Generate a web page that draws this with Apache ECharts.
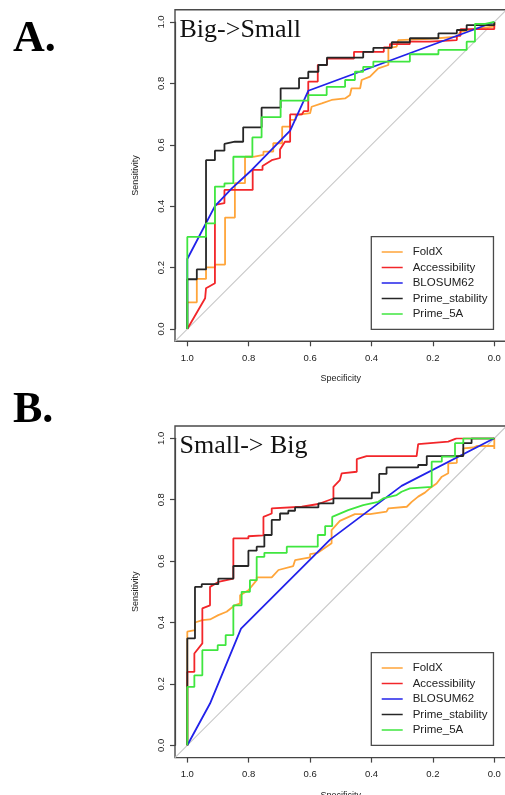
<!DOCTYPE html>
<html>
<head>
<meta charset="utf-8">
<script src="https://cdn.jsdelivr.net/npm/echarts@6/dist/echarts.min.js"></script>
<style>
html,body{margin:0;padding:0;background:#fff;}
#chart{width:505px;height:795px;}
</style>
</head>
<body>
<div id="chart"></div>
<script>
// ---------- DATA ----------
const seriesNames = ['FoldX', 'Accessibility', 'BLOSUM62', 'Prime_stability', 'Prime_5A'];
const panelTitles = ['Big->Small', 'Small-> Big'];
const panelLabels = ['A.', 'B.'];
const tickValues = [0, 0.2, 0.4, 0.6, 0.8, 1.0];
const axisNames = ['Specificity', 'Sensitivity'];

// Panel A (Big->Small): points are [specificity, sensitivity]
const A_FoldX = [[1,0],[1,0.087],[0.969,0.087],[0.969,0.163],[0.939,0.163],[0.939,0.201],[0.91,0.201],[0.91,0.21],[0.877,0.21],[0.877,0.363],[0.845,0.363],[0.845,0.475],[0.812,0.475],[0.812,0.561],[0.785,0.561],[0.785,0.567],[0.752,0.567],[0.752,0.578],[0.72,0.578],[0.72,0.605],[0.691,0.605],[0.691,0.659],[0.665,0.659],[0.665,0.681],[0.647,0.681],[0.647,0.697],[0.6,0.703],[0.595,0.724],[0.562,0.735],[0.53,0.746],[0.486,0.751],[0.47,0.762],[0.465,0.784],[0.437,0.784],[0.432,0.811],[0.405,0.822],[0.378,0.849],[0.345,0.86],[0.345,0.914],[0.318,0.92],[0.313,0.941],[0.211,0.945],[0.122,0.952],[0.11,0.968],[0.057,0.979],[0,0.985],[0,1]];
const A_Accessibility = [[1,0],[0.942,0.10],[0.939,0.133],[0.91,0.149],[0.91,0.404],[0.879,0.41],[0.879,0.453],[0.787,0.453],[0.787,0.518],[0.755,0.518],[0.755,0.531],[0.725,0.55],[0.698,0.557],[0.698,0.585],[0.682,0.61],[0.665,0.61],[0.665,0.699],[0.627,0.699],[0.62,0.71],[0.606,0.71],[0.606,0.806],[0.575,0.806],[0.575,0.86],[0.545,0.86],[0.545,0.881],[0.457,0.881],[0.457,0.903],[0.36,0.903],[0.36,0.917],[0.34,0.917],[0.34,0.928],[0.275,0.928],[0.275,0.936],[0.21,0.936],[0.21,0.941],[0.122,0.941],[0.122,0.955],[0.11,0.955],[0.11,0.977],[0,0.977],[0,1]];
const A_BLOSUM62 = [[1,0],[1,0.228],[0.91,0.40],[0.855,0.458],[0.79,0.518],[0.665,0.646],[0.606,0.776],[0,1]];
const A_PrimeStability = [[1,0],[1,0.162],[0.969,0.162],[0.969,0.194],[0.939,0.194],[0.939,0.55],[0.91,0.55],[0.91,0.581],[0.879,0.581],[0.879,0.603],[0.845,0.61],[0.818,0.61],[0.818,0.657],[0.758,0.657],[0.758,0.721],[0.696,0.721],[0.696,0.784],[0.636,0.784],[0.636,0.817],[0.606,0.817],[0.606,0.838],[0.573,0.838],[0.573,0.86],[0.545,0.86],[0.545,0.884],[0.427,0.884],[0.427,0.903],[0.394,0.903],[0.394,0.916],[0.334,0.916],[0.334,0.934],[0.275,0.934],[0.275,0.947],[0.182,0.947],[0.182,0.963],[0.122,0.963],[0.122,0.974],[0.09,0.974],[0.09,0.99],[0,0.99],[0,1]];
const A_Prime5A = [[1,0],[1,0.30],[0.939,0.30],[0.939,0.344],[0.91,0.344],[0.91,0.464],[0.879,0.464],[0.879,0.474],[0.85,0.475],[0.85,0.561],[0.788,0.561],[0.788,0.624],[0.758,0.624],[0.758,0.69],[0.696,0.69],[0.696,0.744],[0.606,0.744],[0.606,0.762],[0.546,0.762],[0.546,0.789],[0.486,0.789],[0.486,0.811],[0.454,0.811],[0.454,0.838],[0.427,0.838],[0.427,0.854],[0.394,0.854],[0.394,0.871],[0.275,0.871],[0.275,0.895],[0.182,0.895],[0.182,0.909],[0.09,0.909],[0.09,0.936],[0.063,0.936],[0.063,0.994],[0.03,0.994],[0.03,1],[0,1]];

// Panel B (Small-> Big)
const B_FoldX = [[1,0],[1,0.37],[0.975,0.375],[0.975,0.40],[0.951,0.408],[0.926,0.41],[0.899,0.424],[0.872,0.435],[0.845,0.456],[0.828,0.462],[0.828,0.489],[0.801,0.505],[0.774,0.538],[0.774,0.547],[0.725,0.547],[0.703,0.571],[0.655,0.584],[0.649,0.603],[0.6,0.612],[0.6,0.623],[0.575,0.627],[0.53,0.658],[0.53,0.701],[0.503,0.731],[0.454,0.753],[0.405,0.753],[0.351,0.761],[0.345,0.772],[0.285,0.777],[0.269,0.793],[0.248,0.81],[0.226,0.823],[0.21,0.837],[0.188,0.853],[0.171,0.875],[0.15,0.886],[0.15,0.918],[0.122,0.92],[0.122,0.94],[0.101,0.945],[0.101,0.967],[0.068,0.97],[0.057,0.975],[0,0.975],[0,0.965],[0,1]];
const B_Accessibility = [[1,0],[1,0.239],[0.977,0.239],[0.977,0.299],[0.975,0.304],[0.951,0.332],[0.951,0.446],[0.926,0.456],[0.926,0.516],[0.899,0.532],[0.85,0.543],[0.85,0.674],[0.801,0.674],[0.801,0.681],[0.752,0.684],[0.752,0.744],[0.725,0.755],[0.725,0.772],[0.627,0.777],[0.573,0.786],[0.524,0.804],[0.524,0.842],[0.503,0.864],[0.497,0.886],[0.448,0.891],[0.448,0.932],[0.416,0.942],[0.253,0.942],[0.248,0.981],[0.15,0.989],[0.123,1],[0,1]];
const B_BLOSUM62 = [[1,0],[0.926,0.136],[0.825,0.38],[0.6,0.605],[0.535,0.67],[0.302,0.845],[0,1]];
const B_PrimeStability = [[1,0],[1,0.348],[0.975,0.348],[0.975,0.516],[0.953,0.516],[0.953,0.525],[0.899,0.525],[0.899,0.543],[0.85,0.543],[0.85,0.584],[0.801,0.584],[0.801,0.634],[0.774,0.634],[0.774,0.647],[0.749,0.647],[0.749,0.685],[0.725,0.685],[0.725,0.734],[0.698,0.734],[0.698,0.755],[0.671,0.755],[0.671,0.764],[0.649,0.764],[0.649,0.775],[0.573,0.775],[0.573,0.788],[0.524,0.788],[0.524,0.804],[0.399,0.804],[0.399,0.823],[0.375,0.823],[0.375,0.884],[0.351,0.884],[0.351,0.905],[0.248,0.905],[0.248,0.913],[0.22,0.913],[0.22,0.942],[0.101,0.942],[0.101,0.984],[0.074,0.984],[0.074,1],[0,1]];
const B_Prime5A = [[1,0],[1,0.19],[0.977,0.19],[0.977,0.228],[0.951,0.228],[0.951,0.31],[0.901,0.31],[0.901,0.326],[0.875,0.326],[0.875,0.359],[0.85,0.359],[0.85,0.456],[0.823,0.456],[0.823,0.5],[0.796,0.5],[0.796,0.538],[0.774,0.538],[0.774,0.614],[0.749,0.614],[0.749,0.627],[0.676,0.627],[0.676,0.647],[0.575,0.647],[0.575,0.685],[0.551,0.685],[0.551,0.714],[0.528,0.714],[0.528,0.744],[0.524,0.748],[0.476,0.766],[0.427,0.782],[0.378,0.793],[0.362,0.804],[0.318,0.815],[0.302,0.826],[0.275,0.837],[0.204,0.842],[0.204,0.924],[0.171,0.924],[0.171,0.94],[0.128,0.94],[0.128,0.984],[0.101,0.984],[0.101,1],[0,1]];

const panelData = [
  [A_FoldX, A_Accessibility, A_BLOSUM62, A_PrimeStability, A_Prime5A],
  [B_FoldX, B_Accessibility, B_BLOSUM62, B_PrimeStability, B_Prime5A]
];
const axisPad = 0.04; // R's default 4% axis extension

// ---------- STYLE / LAYOUT ----------
const colors = ['#FFA53A', '#F2262A', '#2222EA', '#262626', '#3FE63F'];
const layout = [
  { innerTop: 22, outerTop: 9.7, legendTop: 236.7, titleY: 32, labelY: 44 },
  { innerTop: 438.3, outerTop: 426, legendTop: 652.7, titleY: 448, labelY: 415 }
];
const innerLeft = 187.3, innerSize = 307, outerLeft = 175, outerSize = 331.6;
const sansFont = 'Liberation Sans, Arial, sans-serif';
const serifFont = 'Liberation Serif, Times New Roman, serif';
const axisColor = '#444';

const grids = [], xAxes = [], yAxes = [], series = [], legends = [], graphics = [];
const hiddenAxis = (g, extra) => Object.assign({ gridIndex: g, type: 'value', show: false, min: 0, max: 1 }, extra || {});
const mkGrid = (o) => Object.assign({ show: false, containLabel: false, outerBoundsMode: 'none' }, o);

layout.forEach((L, p) => {
  const gOuter = p * 4, gInner = p * 4 + 1, gX = p * 4 + 2, gY = p * 4 + 3;
  grids.push(mkGrid({ left: outerLeft, top: L.outerTop, width: outerSize, height: outerSize,
    show: true, borderColor: '#4a4a4a', borderWidth: 1.4, backgroundColor: 'transparent' }));
  grids.push(mkGrid({ left: innerLeft, top: L.innerTop, width: innerSize, height: innerSize }));
  grids.push(mkGrid({ left: innerLeft, top: L.outerTop, width: innerSize, height: outerSize }));
  grids.push(mkGrid({ left: outerLeft, top: L.innerTop, width: outerSize, height: innerSize }));

  xAxes.push(hiddenAxis(gOuter, { min: -axisPad, max: 1 + axisPad, inverse: true }));
  yAxes.push(hiddenAxis(gOuter, { min: -axisPad, max: 1 + axisPad }));

  xAxes.push(hiddenAxis(gInner, { inverse: true }));
  yAxes.push(hiddenAxis(gInner));

  xAxes.push({
    gridIndex: gX, type: 'value', min: tickValues[0], max: tickValues[tickValues.length - 1],
    interval: 0.2, inverse: true, position: 'bottom',
    name: axisNames[0], nameLocation: 'middle', nameGap: 33,
    nameTextStyle: { fontFamily: sansFont, fontSize: 9, color: '#222' },
    axisLine: { show: true, onZero: false, lineStyle: { color: axisColor, width: 1.2 } },
    axisTick: { show: true, inside: false, length: 5, lineStyle: { color: axisColor, width: 1.2 } },
    axisLabel: { fontFamily: sansFont, fontSize: 9.5, color: '#222', margin: 12,
      formatter: v => v.toFixed(1) },
    splitLine: { show: false }
  });
  yAxes.push(hiddenAxis(gX));

  xAxes.push(hiddenAxis(gY, { inverse: true }));
  yAxes.push({
    gridIndex: gY, type: 'value', min: tickValues[0], max: tickValues[tickValues.length - 1],
    interval: 0.2, position: 'left',
    name: axisNames[1], nameLocation: 'middle', nameGap: 35,
    nameTextStyle: { fontFamily: sansFont, fontSize: 9, color: '#222' },
    axisLine: { show: true, onZero: false, lineStyle: { color: axisColor, width: 1.2 } },
    axisTick: { show: true, inside: false, length: 5, lineStyle: { color: axisColor, width: 1.2 } },
    axisLabel: { fontFamily: sansFont, fontSize: 9.5, color: '#222', margin: 9, rotate: 90,
      formatter: v => v.toFixed(1) },
    splitLine: { show: false }
  });

  series.push({
    type: 'line', xAxisIndex: gOuter, yAxisIndex: gOuter, silent: true,
    data: [[1 + axisPad, -axisPad], [-axisPad, 1 + axisPad]],
    showSymbol: false, lineStyle: { color: '#c8c8c8', width: 1.1 }, z: 1
  });

  seriesNames.forEach((name, k) => {
    series.push({
      type: 'line', name: name, xAxisIndex: gInner, yAxisIndex: gInner,
      data: panelData[p][k], showSymbol: false, symbol: 'none',
      lineStyle: { color: colors[k], width: 1.8 }, itemStyle: { color: colors[k] },
      z: 2 + k
    });
  });

  legends.push({
    left: 371.3, top: L.legendTop, orient: 'vertical',
    data: seriesNames, selectedMode: false,
    icon: 'rect', itemWidth: 21, itemHeight: 1.5, itemGap: 2.5,
    padding: [8.8, 6, 8.8, 10.4],
    borderColor: '#4a4a4a', borderWidth: 1.3, backgroundColor: '#fff',
    textStyle: { fontFamily: sansFont, fontSize: 11.5, color: '#222', lineHeight: 13, padding: [0, 0, 0, 5] }
  });

  graphics.push({
    type: 'text', left: 179.5, top: L.titleY - 15,
    style: { text: panelTitles[p], font: '26px ' + serifFont, fill: '#111' }
  });
  graphics.push({
    type: 'text', left: 13, top: L.labelY - 26,
    style: { text: panelLabels[p], font: 'bold 44px ' + serifFont, fill: '#000' }
  });
});

const chart = echarts.init(document.getElementById('chart'), null, { renderer: 'canvas' });
chart.setOption({
  animation: false,
  backgroundColor: '#fff',
  grid: grids, xAxis: xAxes, yAxis: yAxes,
  series: series, legend: legends, graphic: graphics
});
</script>
</body>
</html>
